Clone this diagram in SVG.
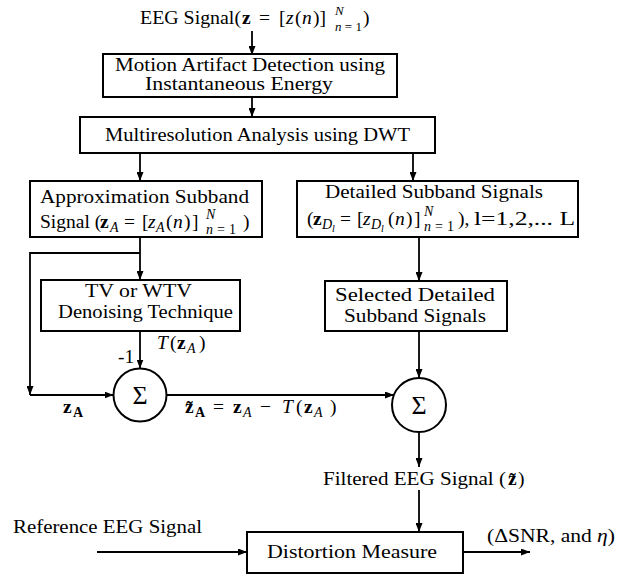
<svg xmlns="http://www.w3.org/2000/svg" width="624" height="574" viewBox="0 0 624 574">
<style>
.t{font-family:"Liberation Serif","Times New Roman",serif;font-size:19.5px;fill:#000}
.m{font-size:18.5px}
.s{font-size:14px}
.s2{font-size:13px}
.ss{font-size:10px}
.i{font-style:italic}
.b{font-weight:bold}
.box{fill:#fff;stroke:#000;stroke-width:2}
.ln{fill:none;stroke:#000;stroke-width:1.8}
.sig{font-family:"Liberation Serif","Times New Roman",serif;font-size:26px;fill:#000;text-anchor:middle}
</style>
<defs>
<marker id="ah" markerUnits="userSpaceOnUse" markerWidth="9" markerHeight="7" refX="9" refY="3.5" orient="auto">
<path d="M0,0 L9,3.5 L0,7 z" fill="#000"/>
</marker>
</defs>
<g id="connectors">
<line class="ln" x1="252" y1="31" x2="252" y2="55" marker-end="url(#ah)"/>
<line class="ln" x1="252" y1="97" x2="252" y2="117" marker-end="url(#ah)"/>
<line class="ln" x1="140" y1="153" x2="140" y2="181" marker-end="url(#ah)"/>
<line class="ln" x1="413" y1="153" x2="413" y2="181" marker-end="url(#ah)"/>
<line class="ln" x1="140" y1="237" x2="140" y2="280" marker-end="url(#ah)"/>
<polyline class="ln" points="140,253 30,253 30,395" marker-end="url(#ah)"/>
<line class="ln" x1="30" y1="395" x2="113.5" y2="395" marker-end="url(#ah)"/>
<line class="ln" x1="140" y1="331" x2="140" y2="368.5" marker-end="url(#ah)"/>
<line class="ln" x1="166.5" y1="395" x2="394" y2="395" marker-end="url(#ah)"/>
<line class="ln" x1="419" y1="237" x2="419" y2="281" marker-end="url(#ah)"/>
<line class="ln" x1="419" y1="331" x2="419" y2="378" marker-end="url(#ah)"/>
<line class="ln" x1="419" y1="432" x2="419" y2="467" marker-end="url(#ah)"/>
<line class="ln" x1="419" y1="490" x2="419" y2="532" marker-end="url(#ah)"/>
<line class="ln" x1="97" y1="552" x2="247" y2="552" marker-end="url(#ah)"/>
<line class="ln" x1="463" y1="552" x2="530" y2="552" marker-end="url(#ah)"/>
</g>
<g id="input">
<text class="t" y="24"><tspan x="140" textLength="101" lengthAdjust="spacingAndGlyphs">EEG Signal(</tspan><tspan x="242" class="b">z</tspan><tspan x="259">=</tspan><tspan x="279">[</tspan><tspan x="286" class="i">z</tspan><tspan x="295">(</tspan><tspan x="302" class="i">n</tspan><tspan x="313">)]</tspan><tspan x="335" y="15" class="s2 i">N</tspan><tspan x="335" y="31" class="s2" textLength="27"><tspan class="i">n</tspan>=1</tspan><tspan x="363" y="24">)</tspan></text>
</g>
<g id="motion">
<rect class="box" x="103" y="54" width="294" height="43"/>
<text class="t m" x="115" y="71" textLength="270" lengthAdjust="spacingAndGlyphs">Motion Artifact Detection using</text>
<text class="t m" x="145" y="90" textLength="188" lengthAdjust="spacingAndGlyphs">Instantaneous Energy</text>
</g>
<g id="mra">
<rect class="box" x="80" y="117" width="355" height="36"/>
<text class="t" x="105" y="141" textLength="305" lengthAdjust="spacingAndGlyphs">Multiresolution Analysis using DWT</text>
</g>
<g id="approx">
<rect class="box" x="30" y="181" width="232" height="56"/>
<text class="t" x="40" y="203" textLength="209" lengthAdjust="spacingAndGlyphs">Approximation Subband</text>
<text class="t" y="228"><tspan x="40">Signal (</tspan><tspan x="100" class="b">z</tspan><tspan x="110" y="232" class="s i">A</tspan><tspan x="124" y="228">=</tspan><tspan x="142">[</tspan><tspan x="148" class="i">z</tspan><tspan x="156" y="232" class="s i">A</tspan><tspan x="166" y="228">(</tspan><tspan x="173" class="i">n</tspan><tspan x="184">)</tspan><tspan x="192">]</tspan><tspan x="206" y="219" class="s i">N</tspan><tspan x="206" y="234" class="s" textLength="30"><tspan class="i">n</tspan>=1</tspan><tspan x="243" y="228">)</tspan></text>
</g>
<g id="detailed">
<rect class="box" x="297" y="181" width="281" height="56"/>
<text class="t" x="325" y="198" textLength="218" lengthAdjust="spacingAndGlyphs">Detailed Subband Signals</text>
<text class="t" y="225"><tspan x="307">(</tspan><tspan x="313" class="b">z</tspan><tspan x="322" y="229" class="s i">D</tspan><tspan x="332" y="232" class="ss i">l</tspan><tspan x="340" y="225">=</tspan><tspan x="357">[</tspan><tspan x="363" class="i">z</tspan><tspan x="371" y="229" class="s i">D</tspan><tspan x="381" y="232" class="ss i">l</tspan><tspan x="388" y="225">(</tspan><tspan x="395" class="i">n</tspan><tspan x="406">)</tspan><tspan x="414">]</tspan><tspan x="424" y="216" class="s i">N</tspan><tspan x="424" y="231" class="s" textLength="30"><tspan class="i">n</tspan>=1</tspan><tspan x="458" y="225">),</tspan><tspan x="474" textLength="101" lengthAdjust="spacingAndGlyphs">l=1,2,... L</tspan></text>
</g>
<g id="tv">
<rect class="box" x="41" y="280" width="199" height="51"/>
<text class="t" x="85" y="297" textLength="107" lengthAdjust="spacingAndGlyphs">TV or WTV</text>
<text class="t" x="58" y="318" textLength="175" lengthAdjust="spacingAndGlyphs">Denoising Technique</text>
</g>
<g id="selected">
<rect class="box" x="325" y="281" width="182" height="50"/>
<text class="t" x="335" y="301" textLength="160" lengthAdjust="spacingAndGlyphs">Selected Detailed</text>
<text class="t" x="344" y="322" textLength="142" lengthAdjust="spacingAndGlyphs">Subband Signals</text>
</g>
<g id="sum1">
<circle class="box" cx="140" cy="395" r="26.5"/>
<text class="sig" x="140" y="404">Σ</text>
</g>
<g id="sum2">
<circle class="box" cx="419" cy="405" r="27"/>
<text class="sig" x="419" y="414">Σ</text>
</g>
<g id="labels">
<text class="t" y="349"><tspan x="157" class="i">T</tspan><tspan x="170">(</tspan><tspan x="177" class="b">z</tspan><tspan x="187" y="353" class="s i">A</tspan><tspan x="199" y="349">)</tspan></text>
<text class="t" x="118" y="363">-1</text>
<text class="t" y="413"><tspan x="63" class="b">z</tspan><tspan x="73" y="417" class="s b">A</tspan></text>
<text class="t" y="413"><tspan x="185" class="b">z̃</tspan><tspan x="195" y="417" class="s b">A</tspan><tspan x="213" y="413">=</tspan><tspan x="233" class="b">z</tspan><tspan x="243" y="417" class="s i">A</tspan><tspan x="260" y="413">−</tspan><tspan x="282" class="i">T</tspan><tspan x="296">(</tspan><tspan x="304" class="b">z</tspan><tspan x="314" y="417" class="s i">A</tspan><tspan x="330" y="413">)</tspan></text>
</g>
<g id="filtered">
<text class="t" y="485"><tspan x="323" textLength="183" lengthAdjust="spacingAndGlyphs">Filtered EEG Signal (</tspan><tspan x="508" class="b">z̃</tspan><tspan x="518">)</tspan></text>
</g>
<g id="reference">
<text class="t" x="13" y="533" textLength="189" lengthAdjust="spacingAndGlyphs">Reference EEG Signal</text>
</g>
<g id="distortion">
<rect class="box" x="247" y="532" width="216" height="41"/>
<text class="t" x="267" y="558" textLength="170" lengthAdjust="spacingAndGlyphs">Distortion Measure</text>
</g>
<g id="output">
<text class="t" x="487" y="542" textLength="128" lengthAdjust="spacingAndGlyphs">(ΔSNR, and <tspan class="i">η</tspan>)</text>
</g>
</svg>
